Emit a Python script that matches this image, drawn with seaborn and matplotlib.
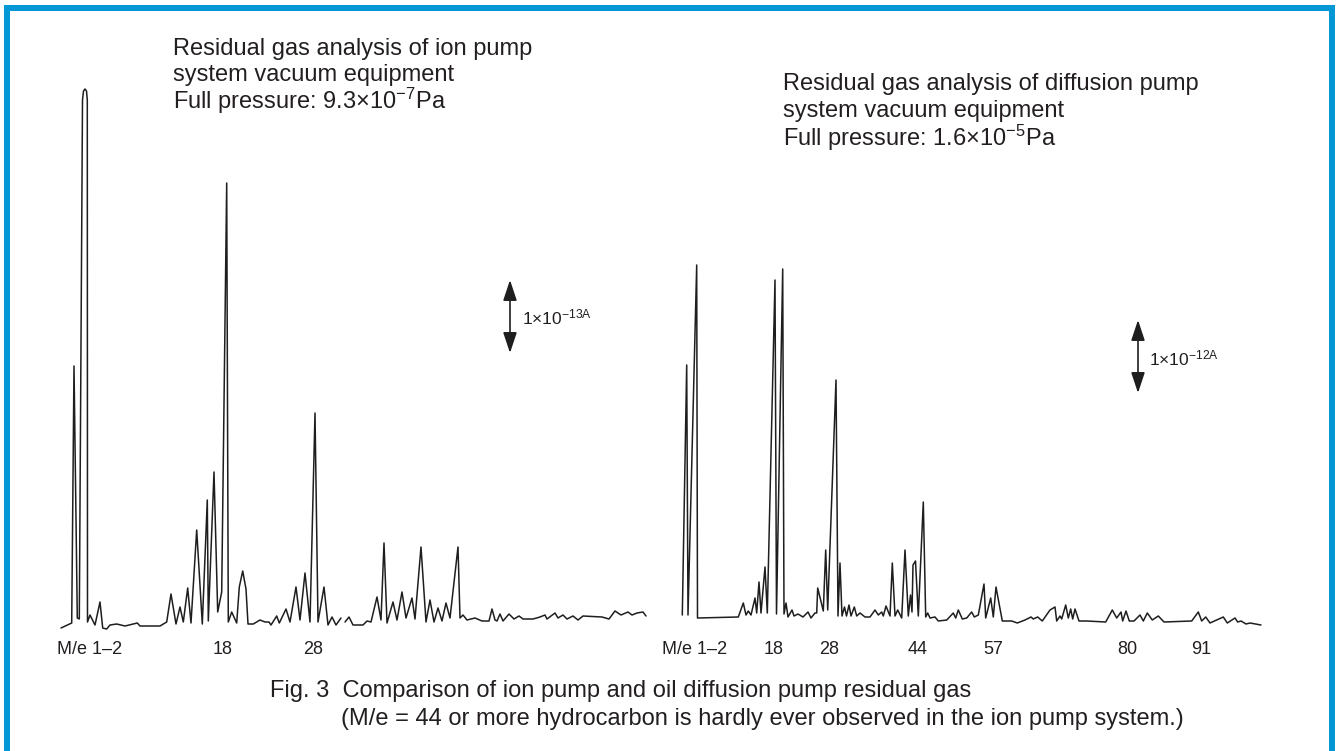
import numpy as np
import pandas as pd
import matplotlib
matplotlib.use("Agg")
import matplotlib.pyplot as plt
from matplotlib.patches import Rectangle, FancyArrowPatch
import seaborn as sns

sns.set_style("white")
plt.rcParams["font.family"] = ["Liberation Sans", "DejaVu Sans"]
plt.rcParams["mathtext.fontset"] = "custom"
plt.rcParams["mathtext.rm"] = "Liberation Sans"
plt.rcParams["mathtext.it"] = "Liberation Sans:italic"
plt.rcParams["mathtext.bf"] = "Liberation Sans:bold"

# ---------------- data: ion pump system (scan position, ion current arb.) ----
ion_scan_a = [1, 11.7, 14, 17.3, 19.3, 22.5, 23.5, 25, 26.5, 27.3,
              27.5, 30, 35, 40, 42.7, 46.7, 50, 56.7, 65, 77.3,
              80, 100, 106.7, 111, 116, 120, 123.3, 127.7, 131, 136.7,
              142.3, 147.3, 148.3, 154, 157.7, 161.7, 166.7, 168.3, 171.7, 176.7,
              179.3, 182.7, 186, 188, 193.3, 200, 205, 209, 211, 216.7,
              219.3, 226, 230, 236, 240, 245, 250, 255, 258, 264,
              268, 272, 276, 281]
ion_signal_a = [2, 7, 264, 12, 11, 530, 539, 541, 539, 530,
                8, 15, 5, 28, 2, 1, 5, 6, 4, 7,
                4, 4, 8, 36, 6, 23, 8, 42, 7, 100,
                6, 130, 9, 158, 18, 38, 447, 8, 18, 7,
                43, 59, 41, 6, 6, 10, 8, 8, 5, 14,
                7, 21, 8, 43, 10, 57, 8, 217, 8, 43,
                5, 13, 5, 12]
ion_scan_b = [285, 289, 293, 303, 307, 311, 317, 321, 324, 327,
              333, 337, 342, 346, 352, 355, 361, 366, 370, 374,
              378, 382, 386, 390, 398, 400, 403, 407, 415, 422,
              429, 432, 435, 437, 440, 443, 449, 454, 459, 463,
              473, 480, 485, 487, 495, 498, 503, 507, 513, 518,
              523, 542, 549, 555, 561, 568, 572, 577, 583, 586]
ion_signal_b = [8, 13, 5, 5, 9, 8, 33, 10, 87, 7,
                28, 10, 38, 12, 32, 11, 83, 8, 30, 8,
                22, 9, 27, 12, 83, 12, 15, 10, 12, 9,
                9, 21, 10, 9, 16, 9, 16, 11, 14, 11,
                11, 13, 15, 11, 17, 12, 15, 11, 14, 10,
                14, 13, 11, 19, 15, 18, 15, 17, 18, 14]

# ---------------- data: diffusion pump system --------------------------------
dif_scan = [2.3, 6.7, 8, 16.7, 17.5, 58.3, 63.3, 66, 68.3, 71,
            75, 76.7, 79, 81, 85, 87.3, 95, 96.5, 102.7, 104,
            106, 108, 112, 114, 118, 123, 128, 131, 135, 136.7,
            137.7, 143.3, 145.7, 147.7, 156, 158, 160, 162, 164.5, 166.5,
            169, 171, 174.3, 176.7, 180, 185, 190, 195, 198.3, 201.7,
            203.3, 206, 210, 212.3, 215, 217.7, 221.7, 225, 228.3, 230.5,
            232, 233, 235.5, 238.3, 243.3, 245.7, 247.7, 250, 255, 258.3,
            266.7, 273.3, 275.7, 278.3, 282.3, 286.7, 291.7, 294.3, 298.3, 304,
            305.7, 310.7, 313.3, 316, 322.3, 331.7, 337.3, 345, 351, 353.3,
            357.7, 362.3, 370, 375, 376.7, 380, 381.7, 385.7, 388.3, 390.7,
            392.7, 395, 399, 406.7, 425.7, 432.3, 436.7, 441, 442.7, 446,
            449.3, 454, 460, 463.3, 467.3, 472.3, 478.3, 484, 511.7, 518.3,
            521.7, 525.7, 530, 543.3, 547.3, 555, 557.7, 561, 566, 570,
            581]
dif_signal = [15, 265, 15, 365, 12, 13, 27, 15, 19, 15,
              32, 17, 48, 17, 63, 17, 350, 16, 361, 16,
              27, 13, 20, 14, 16, 13, 18, 12, 17, 17,
              42, 19, 80, 20, 250, 14, 67, 14, 23, 14,
              25, 14, 23, 14, 17, 13, 13, 20, 15, 18,
              14, 24, 14, 67, 14, 20, 12, 80, 14, 35,
              18, 65, 69, 14, 128, 13, 17, 12, 13, 9,
              10, 17, 12, 20, 11, 12, 18, 13, 15, 46,
              12, 32, 13, 43, 9, 9, 7, 10, 13, 11,
              13, 9, 20, 23, 9, 14, 11, 25, 12, 21,
              11, 21, 9, 9, 8, 20, 12, 18, 9, 19,
              9, 9, 15, 9, 17, 10, 14, 8, 9, 18,
              9, 13, 7, 13, 7, 12, 8, 9, 6, 7,
              5]

ion_tick_pos = [30, 163, 253]
ion_tick_labels = ["M/e 1\u20132", "18", "28"]
dif_tick_pos = [15, 94, 149, 238, 313, 447, 521]
dif_tick_labels = ["M/e 1\u20132", "18", "28", "44", "57", "80", "91"]

ion_df = pd.DataFrame({
    "scan": ion_scan_a + ion_scan_b,
    "signal": ion_signal_a + ion_signal_b,
    "segment": ["a"] * len(ion_scan_a) + ["b"] * len(ion_scan_b),
})
dif_df = pd.DataFrame({"scan": dif_scan, "signal": dif_signal,
                       "segment": ["a"] * len(dif_scan)})

W, H = 1341, 751
fig = plt.figure(figsize=(W / 100, H / 100), dpi=100)
fig.patch.set_facecolor("white")

def fx(px):
    return px / W

def fy(py):
    return 1 - py / H

ax_l = fig.add_axes([fx(40), fy(640), 620 / W, 580 / H])
ax_r = fig.add_axes([fx(660), fy(640), 620 / W, 580 / H])

line_color = "#1e1e1e"
text_color = "#231f20"
for ax, df, tp, tl in [(ax_l, ion_df, ion_tick_pos, ion_tick_labels),
                       (ax_r, dif_df, dif_tick_pos, dif_tick_labels)]:
    sns.lineplot(data=df, x="scan", y="signal", units="segment", estimator=None,
                 sort=False, color=line_color, lw=1.1, ax=ax, legend=False)
    ax.set_xlim(-20, 600)
    ax.set_ylim(-10, 570)
    ax.set_xticks(tp)
    ax.set_xticklabels(tl, fontsize=13, color=text_color)
    ax.set_yticks([])
    ax.set_xlabel("")
    ax.set_ylabel("")
    ax.tick_params(axis="x", length=0, pad=0.5)
    for s in ax.spines.values():
        s.set_visible(False)
    ax.patch.set_alpha(0)

txt_kw = dict(fontsize=17, color=text_color, ha="left", va="center")
fig.text(fx(173), fy(49), "Residual gas analysis of ion pump", **txt_kw)
fig.text(fx(173), fy(75), "system vacuum equipment", **txt_kw)
fig.text(fx(173), fy(101), r"Full pressure: 9.3×10$^{\mathrm{-7}}$Pa", **txt_kw)
fig.text(fx(783), fy(84), "Residual gas analysis of diffusion pump", **txt_kw)
fig.text(fx(783), fy(111), "system vacuum equipment", **txt_kw)
fig.text(fx(783), fy(138), r"Full pressure: 1.6×10$^{\mathrm{-5}}$Pa", **txt_kw)

cap_kw = dict(fontsize=17, color=text_color, ha="left", va="center")
fig.text(fx(270), fy(691), "Fig. 3  Comparison of ion pump and oil diffusion pump residual gas", **cap_kw)
fig.text(fx(341), fy(719), "(M/e = 44 or more hydrocarbon is hardly ever observed in the ion pump system.)", **cap_kw)

# scale bars
arrow_kw = dict(arrowstyle="<|-|>,head_length=0.9,head_width=0.3", color="#1e1e1e",
                lw=1.2, mutation_scale=14, shrinkA=0, shrinkB=0)
fig.add_artist(FancyArrowPatch((fx(510), fy(280)), (fx(510), fy(353)),
                               transform=fig.transFigure, **arrow_kw))
fig.add_artist(FancyArrowPatch((fx(1138), fy(320)), (fx(1138), fy(393)),
                               transform=fig.transFigure, **arrow_kw))
fig.text(fx(522), fy(317), r"1×10$^{\mathrm{-13A}}$", fontsize=12.5, color=text_color, ha="left", va="center")
fig.text(fx(1149), fy(358), r"1×10$^{\mathrm{-12A}}$", fontsize=12.5, color=text_color, ha="left", va="center")

# blue frame
blue = "#0497d6"
fig.add_artist(Rectangle((fx(4), 0), 6 / W, fy(5), transform=fig.transFigure, color=blue, lw=0))
fig.add_artist(Rectangle((fx(4), fy(11)), 1331 / W, 6 / H, transform=fig.transFigure, color=blue, lw=0))
fig.add_artist(Rectangle((fx(1329), 0), 6 / W, fy(5), transform=fig.transFigure, color=blue, lw=0))

fig.savefig("out.png", dpi=100, facecolor="white")
